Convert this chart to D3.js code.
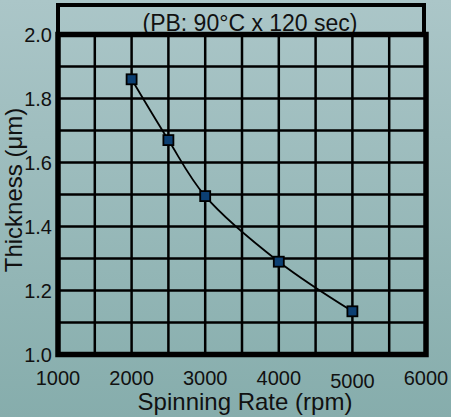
<!DOCTYPE html>
<html>
<head>
<meta charset="utf-8">
<script src="https://cdn.jsdelivr.net/npm/d3@7"></script>
<style>
  html, body { margin: 0; padding: 0; }
  svg { display: block; font-family: "Liberation Sans", Arial, sans-serif; }
</style>
</head>
<body>
<svg id="chart" width="451" height="417"></svg>
<script>
// spin curve - film thickness vs spin speed

const spinRates = [2000, 2500, 3000, 4000, 5000];
const thickness = [1.86, 1.67, 1.495, 1.29, 1.135];
const xTicks = [1000, 2000, 3000, 4000, 5000, 6000];
const yTicks = [1.0, 1.2, 1.4, 1.6, 1.8, 2.0];
const titleText = '(PB: 90°C x 120 sec)';
const xLabel = 'Spinning Rate (rpm)';
const yLabel = 'Thickness (μm)';

const svg = d3.select('#chart');
const W = 451, H = 417;
const plot = { left: 58, right: 426, top: 34.5, bottom: 354.5 };

// background gradient
const defs = svg.append('defs');
const grad = defs.append('linearGradient')
   .attr('id', 'bg')
   .attr('x1', 0).attr('y1', 0)
   .attr('x2', 0).attr('y2', 1);
grad.append('stop').attr('offset', '0%').attr('stop-color', '#abc6c8');
grad.append('stop').attr('offset', '100%').attr('stop-color', '#86adac');

svg.append('rect')
   .attr('width', W)
   .attr('height', H)
   .attr('fill', 'url(#bg)');

const x = d3.scaleLinear().domain([1000, 6000]).range([plot.left, plot.right]);
const y = d3.scaleLinear().domain([1.0, 2.0]).range([plot.bottom, plot.top]);

// title text sits under the box lines
svg.append('text')
   .attr('x', 250)
   .attr('y', 31)
   .attr('text-anchor', 'middle')
   .attr('font-size', '23px')
   .attr('fill', '#111')
   .text(titleText);

// grid
const grid = svg.append('g').attr('class', 'grid');
d3.range(1000, 6001, 500).forEach(v => {
  grid.append('line')
     .attr('x1', x(v)).attr('x2', x(v))
     .attr('y1', plot.top).attr('y2', plot.bottom)
     .attr('stroke', '#000')
     .attr('stroke-width', 2.5);
});
d3.range(0, 11).forEach(i => {
  const v = 1.0 + i * 0.1;
  grid.append('line')
     .attr('x1', plot.left).attr('x2', plot.right)
     .attr('y1', y(v)).attr('y2', y(v))
     .attr('stroke', '#000')
     .attr('stroke-width', 2.5);
});

// title box
svg.append('rect')
   .attr('x', plot.left)
   .attr('y', 5)
   .attr('width', plot.right - plot.left - 2)
   .attr('height', plot.top - 5)
   .attr('fill', 'none')
   .attr('stroke', '#000')
   .attr('stroke-width', 4);

// plot frame
svg.append('rect')
   .attr('x', plot.left)
   .attr('y', plot.top)
   .attr('width', plot.right - plot.left)
   .attr('height', plot.bottom - plot.top)
   .attr('fill', 'none')
   .attr('stroke', '#000')
   .attr('stroke-width', 5.5);

// tick labels
svg.append('g').selectAll('text')
   .data(yTicks)
   .join('text')
   .attr('x', 52)
   .attr('y', d => y(d))
   .attr('dy', '0.36em')
   .attr('text-anchor', 'end')
   .attr('font-size', '20px')
   .attr('fill', '#111')
   .text(d => d.toFixed(1));

svg.append('g').selectAll('text')
   .data(xTicks)
   .join('text')
   .attr('x', d => x(d))
   .attr('y', d => d === 5000 ? 388 : 385)
   .attr('text-anchor', 'middle')
   .attr('font-size', '20px')
   .attr('fill', '#111')
   .text(d => d);

// axis titles
svg.append('text')
   .attr('x', 245)
   .attr('y', 410)
   .attr('text-anchor', 'middle')
   .attr('font-size', '24px')
   .attr('fill', '#111')
   .text(xLabel);

svg.append('text')
   .attr('transform', 'translate(22,190) rotate(-90)')
   .attr('text-anchor', 'middle')
   .attr('font-size', '24px')
   .attr('fill', '#111')
   .text(yLabel);

// data curve and markers
const pts = spinRates.map((r, i) => ({ r, t: thickness[i] }));

const line = d3.line()
   .x(d => x(d.r))
   .y(d => y(d.t))
   .curve(d3.curveCatmullRom.alpha(0.5));

svg.append('path')
   .attr('d', line(pts))
   .attr('fill', 'none')
   .attr('stroke', '#000')
   .attr('stroke-width', 1.8);

const s = 10;
svg.append('g').selectAll('rect')
   .data(pts)
   .join('rect')
   .attr('x', d => x(d.r) - s / 2)
   .attr('y', d => y(d.t) - s / 2)
   .attr('width', s)
   .attr('height', s)
   .attr('fill', '#0c3f72')
   .attr('stroke', '#000')
   .attr('stroke-width', 1.8);
</script>
</body>
</html>
